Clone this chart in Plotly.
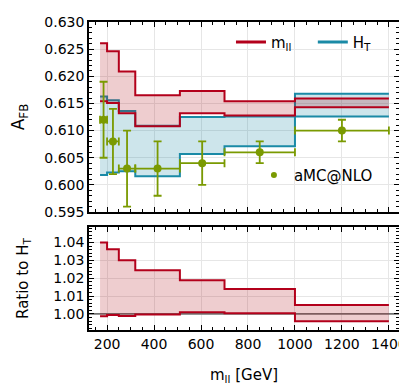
import plotly.graph_objects as go
from plotly.subplots import make_subplots

# ---- data ----
edges = [170, 200, 250, 320, 510, 700, 1000, 1400]
mll_upper = [0.6261, 0.6246, 0.6209, 0.6165, 0.6173, 0.6154, 0.6159]
mll_lower = [0.6154, 0.6151, 0.6132, 0.6108, 0.6132, 0.6128, 0.6143]
ht_upper = [0.6163, 0.6156, 0.6136, 0.6109, 0.6125, 0.6126, 0.6168]
ht_lower = [0.6018, 0.6023, 0.6025, 0.6016, 0.6057, 0.6071, 0.6126]
amc_x = [185, 225, 285, 415, 605, 850, 1200]
amc_y = [0.612, 0.608, 0.603, 0.603, 0.604, 0.606, 0.610]
amc_err = [0.007, 0.006, 0.007, 0.005, 0.004, 0.002, 0.002]
amc_xerr = [15, 25, 35, 95, 95, 150, 200]
ratio_upper = [1.0400, 1.0362, 1.0301, 1.0245, 1.0189, 1.0140, 1.0050]
ratio_lower = [0.9987, 0.9994, 0.9989, 0.9997, 1.0010, 1.0004, 0.9959]

RED = "#b3001b"
RED_FILL = "rgba(175,20,30,0.21)"
BLUE = "#1a8aa6"
BLUE_FILL = "rgba(26,138,166,0.22)"
GREEN = "#7a9a01"
FONT = "DejaVu Sans"


def steps(vals):
    return list(vals) + [vals[-1]]


fig = make_subplots(rows=2, cols=1, shared_xaxes=True, vertical_spacing=0.0)

# H_T band (top)
fig.add_trace(go.Scatter(x=edges, y=steps(ht_lower), mode="lines", line=dict(color=BLUE, width=2, shape="hv"),
                         showlegend=False, hoverinfo="skip"), row=1, col=1)
fig.add_trace(go.Scatter(x=edges, y=steps(ht_upper), mode="lines", line=dict(color=BLUE, width=2, shape="hv"),
                         fill="tonexty", fillcolor=BLUE_FILL, showlegend=False, hoverinfo="skip"), row=1, col=1)
# m_ll band (top)
fig.add_trace(go.Scatter(x=edges, y=steps(mll_lower), mode="lines", line=dict(color=RED, width=2, shape="hv"),
                         showlegend=False, hoverinfo="skip"), row=1, col=1)
fig.add_trace(go.Scatter(x=edges, y=steps(mll_upper), mode="lines", line=dict(color=RED, width=2, shape="hv"),
                         fill="tonexty", fillcolor=RED_FILL, showlegend=False, hoverinfo="skip"), row=1, col=1)
# aMC@NLO points
fig.add_trace(go.Scatter(x=amc_x, y=amc_y, mode="markers",
                         marker=dict(color=GREEN, size=8, symbol="circle"),
                         error_y=dict(type="data", array=amc_err, color=GREEN, thickness=1.8, width=4),
                         error_x=dict(type="data", array=amc_xerr, color=GREEN, thickness=1.8, width=4),
                         showlegend=False), row=1, col=1)

# legend entries
fig.add_trace(go.Scatter(x=[None], y=[None], mode="lines", line=dict(color=RED, width=3),
                         name="m<sub>ll</sub>", legend="legend"), row=1, col=1)
fig.add_trace(go.Scatter(x=[None], y=[None], mode="lines", line=dict(color=BLUE, width=3),
                         name="H<sub>T</sub>", legend="legend2"), row=1, col=1)
fig.add_trace(go.Scatter(x=[None], y=[None], mode="markers", marker=dict(color=GREEN, size=6),
                         name="aMC@NLO", legend="legend3"), row=1, col=1)

# ratio panel
fig.add_trace(go.Scatter(x=[120, 1450], y=[1.0, 1.0], mode="lines", line=dict(color="#707070", width=1.8),
                         showlegend=False, hoverinfo="skip"), row=2, col=1)
fig.add_trace(go.Scatter(x=edges, y=steps(ratio_lower), mode="lines", line=dict(color=RED, width=2, shape="hv"),
                         showlegend=False, hoverinfo="skip"), row=2, col=1)
fig.add_trace(go.Scatter(x=edges, y=steps(ratio_upper), mode="lines", line=dict(color=RED, width=2, shape="hv"),
                         fill="tonexty", fillcolor=RED_FILL, showlegend=False, hoverinfo="skip"), row=2, col=1)

axis_common = dict(showline=True, mirror="allticks", linecolor="black", linewidth=1.5,
                   ticks="inside", ticklen=5, tickwidth=1.2, tickcolor="black",
                   showgrid=True, gridcolor="#e6e6e6", gridwidth=1, zeroline=False, automargin=False,
                   tickfont=dict(family=FONT, size=14, color="black"))

fig.update_xaxes(**axis_common, range=[123, 1443], dtick=200, tick0=0,
                 minor=dict(dtick=50, ticks="inside", ticklen=3, tickcolor="black", showgrid=False))
fig.update_xaxes(showticklabels=False, row=1, col=1)
fig.update_xaxes(title=dict(text="m<sub>ll</sub> [GeV]", font=dict(family=FONT, size=15, color="black"), standoff=19),
                 row=2, col=1)

fig.update_yaxes(**axis_common)
fig.update_yaxes(range=[0.595, 0.630], dtick=0.005, tick0=0.595, tickformat=".3f",
                 minor=dict(dtick=0.001, ticks="inside", ticklen=3, tickcolor="black", showgrid=False),
                 title=dict(text="A<sub>FB</sub>", font=dict(family=FONT, size=17, color="black"), standoff=23),
                 domain=[0.383, 1.0], row=1, col=1)
fig.update_yaxes(range=[0.991, 1.0486], dtick=0.01, tick0=1.0, tickformat=".2f",
                 minor=dict(dtick=0.002, ticks="inside", ticklen=3, tickcolor="black", showgrid=False),
                 title=dict(text="Ratio to H<sub>T</sub>", font=dict(family=FONT, size=15, color="black"), standoff=21),
                 domain=[0.0, 0.334], row=2, col=1)

leg_font = dict(family=FONT, size=15, color="black")
fig.update_layout(
    width=407, height=391,
    margin=dict(l=81, r=16, t=14, b=69, autoexpand=False),
    paper_bgcolor="white", plot_bgcolor="white",
    font=dict(family=FONT, size=15, color="black"),
    legend=dict(x=0.458, y=0.988, xanchor="left", yanchor="top", bgcolor="rgba(0,0,0,0)",
                font=leg_font, itemwidth=30),
    legend2=dict(x=0.722, y=0.988, xanchor="left", yanchor="top", bgcolor="rgba(0,0,0,0)",
                 font=leg_font, itemwidth=30),
    legend3=dict(x=0.532, y=0.556, xanchor="left", yanchor="top", bgcolor="rgba(0,0,0,0)",
                 font=leg_font, itemwidth=30),
)

fig.write_html("out.html")
